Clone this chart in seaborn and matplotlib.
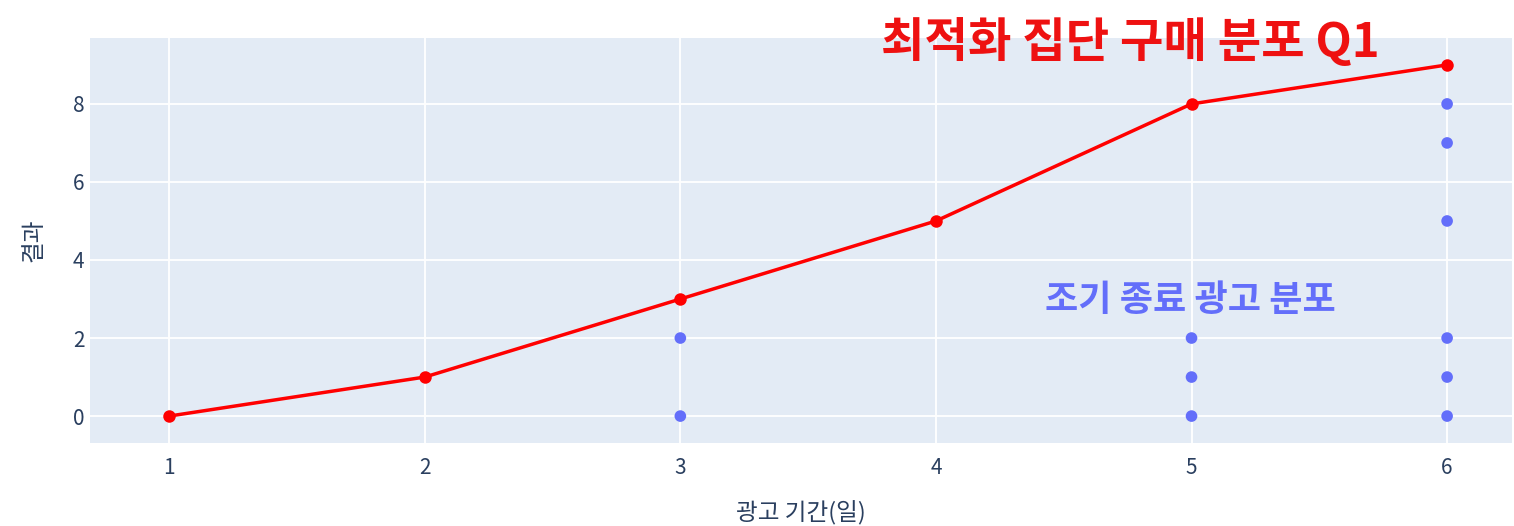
import matplotlib
matplotlib.use("Agg")
import matplotlib.pyplot as plt
import seaborn as sns
import pandas as pd

# Data
line_days = [1, 2, 3, 4, 5, 6]
line_values = [0, 1, 3, 5, 8, 9]
early_days = [3, 3, 5, 5, 5, 6, 6, 6, 6, 6, 6]
early_values = [0, 2, 0, 1, 2, 0, 1, 2, 5, 7, 8]
x_ticks = [1, 2, 3, 4, 5, 6]
y_ticks = [0, 2, 4, 6, 8]
title_text = "최적화 집단 구매 분포 Q1"
annot_text = "조기 종료 광고 분포"
x_label = "광고 기간(일)"
y_label = "결과"

sns.set_theme(style="darkgrid")
plt.rcParams['font.family'] = ['Noto Sans CJK KR', 'DejaVu Sans']

fig = plt.figure(figsize=(15.14, 5.26), dpi=100)
ax = fig.add_axes([0.0594, 0.1578, 0.9393, 0.77])
ax.set_facecolor("#E3EBF5")

df_line = pd.DataFrame({"day": line_days, "value": line_values})
df_early = pd.DataFrame({"day": early_days, "value": early_values})

sns.scatterplot(data=df_early, x="day", y="value", ax=ax, color="#636EFA",
                s=70, edgecolor="none", zorder=3)
sns.lineplot(data=df_line, x="day", y="value", ax=ax, color="red",
             linewidth=2.5, marker="o", markersize=9, markeredgewidth=0, zorder=4)

ax.set_xlim(0.69, 6.254)
ax.set_ylim(-0.69, 9.69)
ax.set_xticks(x_ticks)
ax.set_yticks(y_ticks)
ax.grid(True, color="white", linewidth=1.3)
for s in ax.spines.values():
    s.set_visible(False)
ax.tick_params(axis="both", length=0, labelsize=15, labelcolor="#2a3f5f")
ax.tick_params(axis="x", pad=10)
ax.tick_params(axis="y", pad=4)
ax.set_xlabel(x_label, fontsize=17, color="#2a3f5f", labelpad=16)
ax.set_ylabel(y_label, fontsize=17, color="#2a3f5f", labelpad=20)

fig.text(0.7465, 0.92, title_text, color="#EE1111", fontsize=34, fontweight="bold",
         ha="center", va="center")
ax.text(4.994, 2.97, annot_text, color="#636EFA", fontsize=26, fontweight="bold",
        ha="center", va="center")

fig.savefig("out.png", dpi=100, facecolor="white")
